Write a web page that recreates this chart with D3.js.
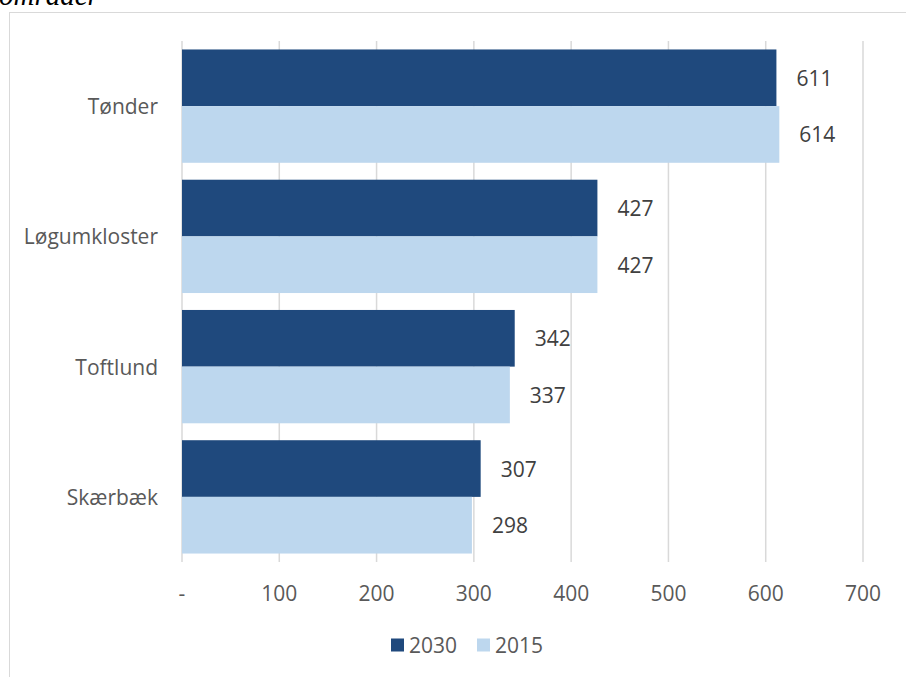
<!DOCTYPE html>
<html lang="da">
<head>
<meta charset="UTF-8">
<title>Områder</title>
<script src="https://d3js.org/d3.v7.min.js"></script>
<style>
  body { margin: 0; background: #fff; }
  svg { display: block; }
  text { font-family: "Open Sans", sans-serif; }
</style>
</head>
<body>
<script>
const width = 906
const height = 677

// data
const categories = ["Tønder", "Løgumkloster", "Toftlund", "Skærbæk"]
const series = ["2030", "2015"]
const values2030 = [611, 427, 342, 307]
const values2015 = [614, 427, 337, 298]
const tickValues = [0, 100, 200, 300, 400, 500, 600, 700]
const tickLabels = ["-", "100", "200", "300", "400", "500", "600", "700"]

const colors = { "2030": "#1f497d", "2015": "#bdd7ee" }

const rows = categories.map((c, i) => ({ cat: c, "2030": values2030[i], "2015": values2015[i] }))

let svg = d3.select("body").append("svg")
    .attr("width", width).attr("height", height)

// title, cut off at the top
svg.append("text")
    .attr("x", -1).attr("y", 5)
    .style("font-family", "'Liberation Serif', serif")
    .style("font-style", "italic")
    .style("font-size", "29px")
    .attr("fill", "#000")
    .text("områder")

// chart frame
svg.append("rect")
    .attr("x", 9.5).attr("y", 12.5)
    .attr("width", 930).attr("height", 700)
    .attr("fill", "none").attr("stroke", "#d9d9d9")

const x = d3.scaleLinear().domain([0, 700]).range([182, 863])
const y = d3.scaleBand().domain(categories).range([41, 562])
    .paddingInner(0.13).paddingOuter(0.065)
const ySub = d3.scaleBand().domain(series).range([0, y.bandwidth()])

// gridlines
svg.append("g").selectAll("line")
    .data(tickValues)
    .enter().append("line")
    .attr("x1", d => x(d)).attr("x2", d => x(d))
    .attr("y1", 41).attr("y2", 562)
    .attr("stroke", "#d9d9d9").attr("stroke-width", 1.5)

// tick labels
svg.append("g").selectAll("text")
    .data(tickValues)
    .enter().append("text")
    .attr("x", d => x(d)).attr("y", 593)
    .attr("text-anchor", "middle").attr("dominant-baseline", "central")
    .attr("fill", "#595959").style("font-size", "21px")
    .text((d, i) => tickLabels[i])

// bars
let gGroups = svg.append("g").selectAll("g")
    .data(rows)
    .enter().append("g")
    .attr("transform", d => `translate(0,${y(d.cat)})`)

gGroups.selectAll("rect")
    .data(d => series.map(s => ({ s: s, v: d[s] })))
    .enter().append("rect")
    .attr("x", x(0))
    .attr("y", d => ySub(d.s))
    .attr("width", d => x(d.v) - x(0))
    .attr("height", ySub.bandwidth())
    .attr("fill", d => colors[d.s])

// value labels
gGroups.selectAll("text.val")
    .data(d => series.map(s => ({ s: s, v: d[s] })))
    .enter().append("text")
    .attr("class", "val")
    .attr("x", d => x(d.v) + 20)
    .attr("y", d => ySub(d.s) + ySub.bandwidth() / 2)
    .attr("dominant-baseline", "central")
    .attr("fill", "#404040").style("font-size", "21px")
    .text(d => d.v)

// category labels
svg.append("g").selectAll("text")
    .data(categories)
    .enter().append("text")
    .attr("x", 158)
    .attr("y", d => y(d) + y.bandwidth() / 2)
    .attr("text-anchor", "end").attr("dominant-baseline", "central")
    .attr("fill", "#595959").style("font-size", "21px")
    .text(d => d)

// legend
const legendX = [391, 477]
let gLegend = svg.append("g").selectAll("g")
    .data(series)
    .enter().append("g")
    .attr("transform", (d, i) => `translate(${legendX[i]},645)`)

gLegend.append("rect")
    .attr("x", 0).attr("y", -6.5)
    .attr("width", 13).attr("height", 13)
    .attr("fill", d => colors[d])

gLegend.append("text")
    .attr("x", 18).attr("y", 0)
    .attr("dominant-baseline", "central")
    .attr("fill", "#595959").style("font-size", "21px")
    .text(d => d)
</script>
</body>
</html>
